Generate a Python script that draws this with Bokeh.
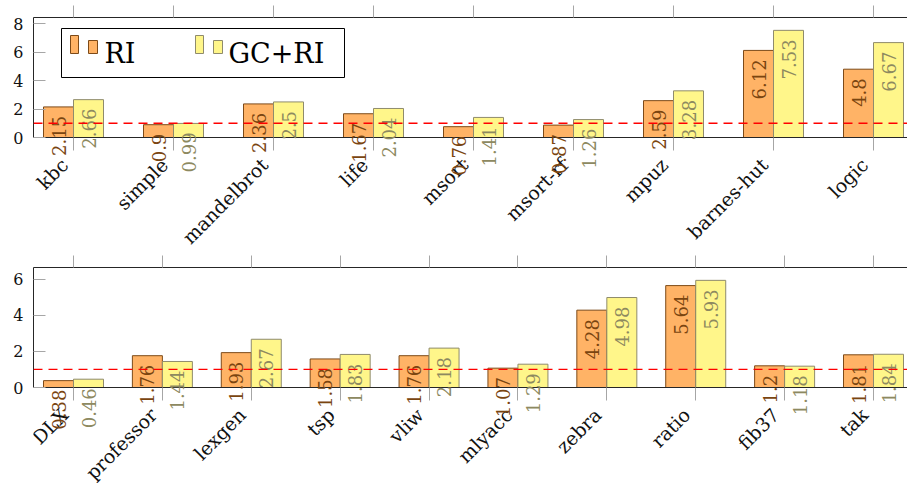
import math
import numpy as np
from bokeh.plotting import figure
from bokeh.layouts import column
from bokeh.models import (ColumnDataSource, FixedTicker, LinearAxis, BoxAnnotation,
                          Label, Span, Range1d)
from bokeh.embed import file_html
from bokeh.resources import INLINE

# ---------------- data ----------------
top_cats = ["kbc", "simple", "mandelbrot", "life", "msort", "msort-rf", "mpuz", "barnes-hut", "logic"]
top_ri = [2.15, 0.9, 2.36, 1.67, 0.76, 0.87, 2.59, 6.12, 4.8]
top_gcri = [2.66, 0.99, 2.5, 2.04, 1.41, 1.26, 3.28, 7.53, 6.67]
top_yticks = [0, 2, 4, 6, 8]

bot_cats = ["DLX", "professor", "lexgen", "tsp", "vliw", "mlyacc", "zebra", "ratio", "fib37", "tak"]
bot_ri = [0.38, 1.76, 1.93, 1.58, 1.76, 1.07, 4.28, 5.64, 1.2, 1.81]
bot_gcri = [0.46, 1.44, 2.67, 1.83, 2.18, 1.29, 4.98, 5.93, 1.18, 1.84]
bot_yticks = [0, 2, 4, 6]

series_names = ["RI", "GC+RI"]
baseline_value = 1

# ---------------- style ----------------
FONT = "DejaVu Serif"
OR_FILL, OR_LINE, OR_TEXT = "#ffb366", "#7d4a18", "#7a4510"
YE_FILL, YE_LINE, YE_TEXT = "#fff68a", "#8f8b6c", "#8d8960"
AXIS_COL = "#262626"
TICK_COL = "#a6a6a6"

FIG_W = 907
FRAME_LEFT = 33          # px inside figure
PLOT_H = 120             # px from baseline (0) to top of frame
FULL_FRAME_W = 880       # full (unclipped) frame width of the original
VIS_FRAME_W = FIG_W - FRAME_LEFT
BAR_PX = 30


def make_panel(cats, ri, gcri, yticks, height, b_top, legend=False):
    n = len(cats)
    idx = np.arange(n)
    span_units = (n - 1) * 1.1
    ppc = FULL_FRAME_W / span_units
    x0 = -0.05 * (n - 1)
    x1 = x0 + VIS_FRAME_W / ppc
    ymax = 1.12 * max(max(ri), max(gcri))
    bw = BAR_PX / ppc
    # the frame is extended below the zero line so that texts under it stay visible
    below_px = height - b_top - PLOT_H
    ymin = -below_px * ymax / PLOT_H

    p = figure(width=FIG_W, height=height, x_range=Range1d(x0, x1), y_range=Range1d(ymin, ymax),
               output_backend="svg", toolbar_location=None,
               min_border_left=FRAME_LEFT, min_border_right=0,
               min_border_top=b_top, min_border_bottom=0)
    p.outline_line_color = None
    p.xgrid.visible = False
    p.ygrid.visible = False
    p.background_fill_color = "white"
    p.border_fill_color = "white"

    src = ColumnDataSource(dict(x_ri=idx - bw / 2, x_gc=idx + bw / 2, ri=ri, gc=gcri))

    p.vbar(x="x_ri", top="ri", width=bw, source=src, fill_color=OR_FILL, line_color=OR_LINE, line_width=1)
    p.vbar(x="x_gc", top="gc", width=bw, source=src, fill_color=YE_FILL, line_color=YE_LINE, line_width=1)

    # bottom axis drawn at y = 0 (ticks only; category texts are placed below)
    xa = p.xaxis[0]
    xa.fixed_location = 0
    xa.ticker = FixedTicker(ticks=list(idx))
    xa.major_label_overrides = {int(i): "" for i in idx}
    xa.major_tick_in = 0
    xa.major_tick_out = 13
    xa.major_tick_line_color = TICK_COL
    xa.minor_tick_line_color = None
    xa.axis_line_color = AXIS_COL

    # category labels, rotated 45 degrees, ending at their tick
    for i, c in zip(idx, cats):
        p.add_layout(Label(x=float(i), y=0, text=c, angle=math.pi / 4,
                           text_align="right", text_baseline="middle",
                           x_offset=-9, y_offset=-24,
                           text_font=FONT, text_font_size="19px", text_color="#111111"))

    # value labels
    for xs, vals, col in ((idx - bw / 2, ri, OR_TEXT), (idx + bw / 2, gcri, YE_TEXT)):
        for xv, v in zip(xs, vals):
            p.add_layout(Label(x=float(xv), y=v, text=str(v), angle=math.pi / 2,
                               text_align="right", text_baseline="middle", y_offset=-9,
                               text_font=FONT, text_font_size="18px", text_color=col))

    p.add_layout(Span(location=baseline_value, dimension="width", line_color="#ff0000",
                      line_dash="9 6", line_width=1.3))

    # top axis (ticks only)
    ta = LinearAxis(ticker=FixedTicker(ticks=list(idx)), major_label_text_font_size="1px",
                    major_label_text_alpha=0, major_label_standoff=0,
                    major_tick_in=0, major_tick_out=12,
                    major_tick_line_color=TICK_COL, minor_tick_line_color=None,
                    axis_line_color=AXIS_COL)
    p.add_layout(ta, "above")

    ya = p.yaxis[0]
    ya.bounds = (0, ymax)
    ya.ticker = FixedTicker(ticks=yticks)
    ya.major_label_text_font = FONT
    ya.major_label_text_font_size = "16px"
    ya.major_label_text_color = "#111111"
    ya.major_tick_in = 12
    ya.major_tick_out = 0
    ya.major_label_standoff = 10
    ya.major_tick_line_color = TICK_COL
    ya.minor_tick_line_color = None
    ya.axis_line_color = AXIS_COL

    if legend:
        # pixel -> data helpers (relative to the top of the plot frame)
        def dx(px):
            return x0 + px / ppc

        def dy(py):
            return ymax * (PLOT_H - py) / PLOT_H

        def box(l, t, r, b, fill, line, lw=1):
            p.add_layout(BoxAnnotation(left=dx(l), right=dx(r), top=dy(t), bottom=dy(b),
                                       fill_color=fill, fill_alpha=1, line_color=line,
                                       line_alpha=1, line_width=lw, level="overlay"))

        box(28, 11, 311, 60, "white", "black", 1)
        box(37, 18, 45, 36, OR_FILL, OR_LINE)
        box(55, 23, 64, 36, OR_FILL, OR_LINE)
        box(162, 18, 170, 36, YE_FILL, YE_LINE)
        box(180, 23, 189, 36, YE_FILL, YE_LINE)
        for tx, name in ((71, series_names[0]), (195, series_names[1])):
            p.add_layout(Label(x=dx(tx), y=dy(36), text=name, text_font=FONT,
                               text_font_size="27px", text_color="#000000",
                               text_baseline="alphabetic", text_align="left", level="overlay"))
    return p


p1 = make_panel(top_cats, top_ri, top_gcri, top_yticks, height=255, b_top=17, legend=True)
p2 = make_panel(bot_cats, bot_ri, bot_gcri, bot_yticks, height=228, b_top=12)

layout = column(p1, p2, spacing=0)
open("out.html", "w").write(file_html(layout, INLINE))
